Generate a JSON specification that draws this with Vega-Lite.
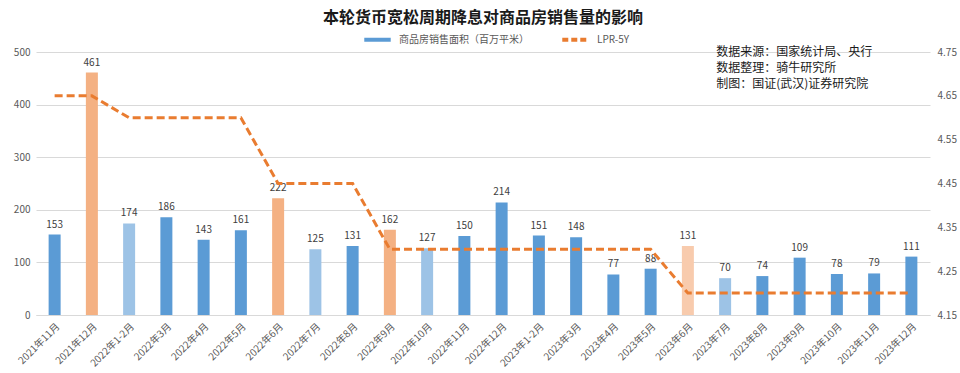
{
  "$schema": "https://vega.github.io/schema/vega-lite/v6.json",
  "width": 894,
  "height": 263,
  "autosize": {"type": "none"},
  "padding": {"left": 36, "top": 52, "right": 30, "bottom": 58},
  "background": "white",
  "config": {
    "font": "Noto Sans CJK SC",
    "view": {"stroke": null},
    "axis": {"labelFont": "Noto Sans CJK SC", "labelColor": "#595959", "labelFontSize": 10, "ticks": false, "domain": false, "title": null}
  },
  "title": {
    "text": "本轮货币宽松周期降息对商品房销售量的影响",
    "font": "Noto Sans CJK SC",
    "fontSize": 16,
    "fontWeight": "bold",
    "color": "#1a1a1a",
    "anchor": "middle",
    "offset": -2
  },
  "data": {
    "values": [
      {"month": "2021年11月", "area": 153, "lpr": 4.65, "phase": "平稳"},
      {"month": "2021年12月", "area": 461, "lpr": 4.65, "phase": "降息当月"},
      {"month": "2022年1-2月", "area": 174, "lpr": 4.60, "phase": "降息次月"},
      {"month": "2022年3月", "area": 186, "lpr": 4.60, "phase": "平稳"},
      {"month": "2022年4月", "area": 143, "lpr": 4.60, "phase": "平稳"},
      {"month": "2022年5月", "area": 161, "lpr": 4.60, "phase": "平稳"},
      {"month": "2022年6月", "area": 222, "lpr": 4.45, "phase": "降息当月"},
      {"month": "2022年7月", "area": 125, "lpr": 4.45, "phase": "降息次月"},
      {"month": "2022年8月", "area": 131, "lpr": 4.45, "phase": "平稳"},
      {"month": "2022年9月", "area": 162, "lpr": 4.30, "phase": "降息当月"},
      {"month": "2022年10月", "area": 127, "lpr": 4.30, "phase": "降息次月"},
      {"month": "2022年11月", "area": 150, "lpr": 4.30, "phase": "平稳"},
      {"month": "2022年12月", "area": 214, "lpr": 4.30, "phase": "平稳"},
      {"month": "2023年1-2月", "area": 151, "lpr": 4.30, "phase": "平稳"},
      {"month": "2023年3月", "area": 148, "lpr": 4.30, "phase": "平稳"},
      {"month": "2023年4月", "area": 77, "lpr": 4.30, "phase": "平稳"},
      {"month": "2023年5月", "area": 88, "lpr": 4.30, "phase": "平稳"},
      {"month": "2023年6月", "area": 131, "lpr": 4.20, "phase": "降息当月(2023)"},
      {"month": "2023年7月", "area": 70, "lpr": 4.20, "phase": "降息次月"},
      {"month": "2023年8月", "area": 74, "lpr": 4.20, "phase": "平稳"},
      {"month": "2023年9月", "area": 109, "lpr": 4.20, "phase": "平稳"},
      {"month": "2023年10月", "area": 78, "lpr": 4.20, "phase": "平稳"},
      {"month": "2023年11月", "area": 79, "lpr": 4.20, "phase": "平稳"},
      {"month": "2023年12月", "area": 111, "lpr": 4.20, "phase": "平稳"}
    ]
  },
  "encoding": {
    "x": {
      "field": "month",
      "type": "nominal",
      "sort": null,
      "scale": {"paddingInner": 0, "paddingOuter": 0},
      "axis": {"labelAngle": -45, "domain": true, "domainColor": "#D9D9D9", "labelPadding": 6, "grid": false}
    }
  },
  "layer": [
    {
      "layer": [
        {
          "mark": {"type": "bar", "size": 12},
          "encoding": {
            "y": {
              "field": "area",
              "type": "quantitative",
              "scale": {"domain": [0, 500], "nice": false},
              "axis": {"values": [0, 50, 100, 150, 200, 250, 300, 350, 400, 450, 500], "grid": true, "gridColor": "#D9D9D9", "labelPadding": 6}
            },
            "color": {
              "field": "phase",
              "type": "nominal",
              "scale": {"domain": ["平稳", "降息当月", "降息次月", "降息当月(2023)"], "range": ["#5B9BD5", "#F4B183", "#9DC3E6", "#F8CBAD"]},
              "legend": null
            }
          }
        },
        {
          "mark": {"type": "text", "baseline": "bottom", "dy": -5, "fontSize": 10, "color": "#404040"},
          "encoding": {
            "y": {"field": "area", "type": "quantitative"},
            "text": {"field": "area", "type": "quantitative"}
          }
        },
        {
          "data": {"values": [{"note": "数据来源：国家统计局、央行\n数据整理：骑牛研究所\n制图：国证(武汉)证券研究院"}]},
          "mark": {"type": "text", "align": "left", "baseline": "top", "lineBreak": "\n", "lineHeight": 16, "fontSize": 12, "color": "#1a1a1a", "dx": -9, "dy": -5},
          "encoding": {
            "x": {"datum": "2023年7月"},
            "y": {"datum": 500},
            "text": {"field": "note"}
          }
        }
      ]
    },
    {
      "mark": {"type": "line", "strokeWidth": 3, "strokeDash": [8, 4]},
      "encoding": {
        "y": {
          "field": "lpr",
          "type": "quantitative",
          "scale": {"domain": [4.15, 4.75], "nice": false, "zero": false},
          "axis": {"orient": "right", "values": [4.15, 4.25, 4.35, 4.45, 4.55, 4.65, 4.75], "format": ".2f", "grid": false, "labelPadding": 7}
        },
        "color": {
          "datum": "LPR-5Y",
          "scale": {"domain": ["商品房销售面积（百万平米）", "LPR-5Y"], "range": ["#5B9BD5", "#E97C30"]},
          "legend": {
            "title": null,
            "orient": "none",
            "direction": "horizontal",
            "legendX": 326,
            "legendY": -28,
            "padding": 0,
            "symbolType": "stroke",
            "symbolSize": 700,
            "symbolStrokeWidth": 4,
            "labelOffset": 6,
            "labelFontSize": 10,
            "labelColor": "#595959",
            "columnPadding": 25,
            "encode": {
              "symbols": {
                "update": {
                  "strokeDash": {"signal": "datum.value === 'LPR-5Y' ? [6, 3] : [1, 0]"}
                }
              }
            }
          }
        }
      }
    }
  ],
  "resolve": {"scale": {"y": "independent", "color": "independent"}}
}
